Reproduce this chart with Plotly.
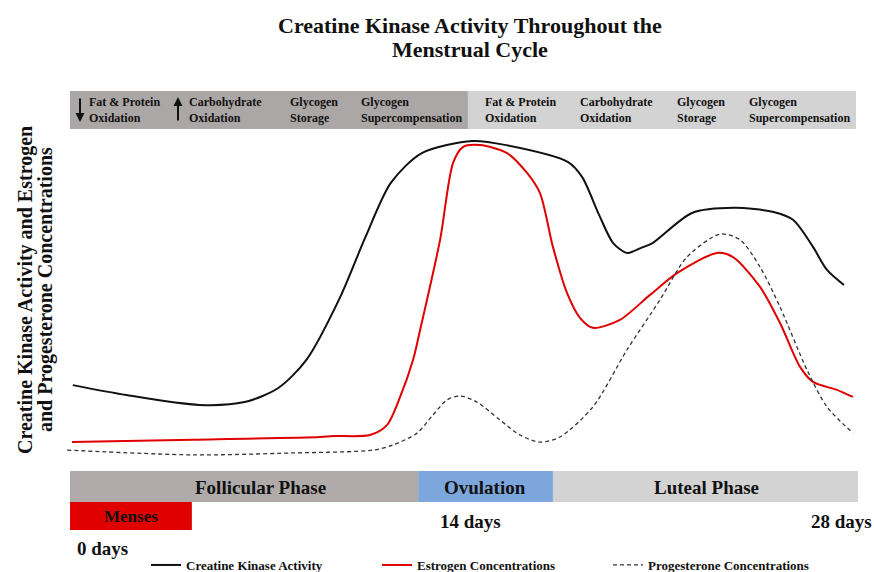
import plotly.graph_objects as go

W, H = 874, 572

# ---------------- data (days of cycle, relative level 0-100) ----------------
ck_day = [0.1, 2.0, 4.6, 6.2, 7.4, 8.4, 9.6, 10.5, 11.4, 12.5, 14.3, 15.5, 17.7, 18.2,
          18.8, 19.3, 19.8, 20.3, 20.7, 22.1, 23.6, 25.0, 25.7, 26.4, 26.9, 27.5]
ck_level = [23.4, 20.3, 17.2, 18.1, 22.5, 31.3, 50.9, 69.7, 86.6, 95.9, 99.7, 98.4, 93.1, 88.4,
            76.6, 67.8, 64.7, 66.3, 67.8, 77.2, 78.8, 77.5, 75.0, 66.6, 59.4, 54.7]

est_day = [0.07, 4.37, 8.88, 9.35, 10.66, 11.26, 11.73, 12.19, 12.44, 13.15, 13.61, 13.96, 14.57,
           15.53, 16.24, 16.70, 17.16, 17.66, 18.12, 18.58, 19.54, 20.61, 21.57, 22.99, 23.56,
           24.52, 25.23, 25.94, 26.40, 27.25, 27.82]
est_level = [5.6, 6.3, 7.2, 7.5, 7.8, 10.9, 19.7, 31.3, 40.6, 68.8, 92.8, 97.8, 98.4,
             95.9, 89.7, 83.4, 66.6, 52.2, 44.4, 41.3, 43.8, 51.6, 58.4, 64.7, 63.4,
             54.1, 42.8, 29.1, 24.4, 21.9, 19.7]

prog_day = [-0.1, 4.37, 7.92, 10.77, 11.48, 12.33, 12.90, 13.40, 13.86, 14.46, 15.28, 15.99,
            16.70, 17.41, 18.58, 19.79, 20.96, 21.92, 23.10, 23.81, 24.52, 25.23, 26.19, 26.90, 27.82]
prog_level = [3.1, 1.6, 2.2, 3.1, 4.7, 8.4, 14.1, 18.8, 20.0, 18.1, 12.5, 7.8,
              5.6, 7.2, 16.6, 34.4, 50.0, 63.4, 70.6, 68.8, 60.3, 47.8, 28.1, 16.6, 8.4]

phase_names = ["Follicular Phase", "Ovulation", "Luteal Phase"]
phase_start = [0, 12.37, 17.16]
phase_end = [12.37, 17.16, 28.0]
menses_label = "Menses"
menses_start, menses_end = 0, 4.33

fuel_labels = ["Fat & Protein<br>Oxidation", "Carbohydrate<br>Oxidation",
               "Glycogen<br>Storage", "Glycogen<br>Supercompensation"]
half_start = [0, 14.14]
half_end = [14.14, 27.93]

day_labels = ["0 days", "14 days", "28 days"]

title_lines = ["Creatine Kinase Activity Throughout the", "Menstrual Cycle"]
ytitle_lines = ["Creatine Kinase Activity and Estrogen", "and Progesterone Concentrations"]

# ---------------- layout helpers ----------------
X0_PX, PX_PER_DAY = 70, 788 / 28
LVL0_PX, PX_PER_LVL = 460, 3.2


def xp(px):
    return px / W


def yp(py):
    return 1 - py / H


FONT = "Liberation Serif"
INK = "#111111"

fig = go.Figure()

fig.add_trace(go.Scatter(x=ck_day, y=ck_level, mode="lines", name="Creatine Kinase Activity",
                         line=dict(color=INK, width=2, shape="spline", smoothing=0.8)))
fig.add_trace(go.Scatter(x=est_day, y=est_level, mode="lines", name="Estrogen Concentrations",
                         line=dict(color="#e00000", width=2, shape="spline", smoothing=0.8)))
fig.add_trace(go.Scatter(x=prog_day, y=prog_level, mode="lines", name="Progesterone Concentrations",
                         line=dict(color="#333333", width=1.3, dash="4px,3px", shape="spline",
                                   smoothing=0.8)))

shapes = []
annotations = []


def text(px, py, t, size, xanchor="center", angle=0, align="center"):
    annotations.append(dict(x=xp(px), y=yp(py), xref="paper", yref="paper",
                            text="<b>%s</b>" % t, showarrow=False, xanchor=xanchor,
                            yanchor="middle", align=align, textangle=angle,
                            font=dict(family=FONT, size=size, color=INK)))


# top fuel bands
band_colors = ["#aba7a6", "#d3d3d3"]
for s, e, c in zip(half_start, half_end, band_colors):
    shapes.append(dict(type="rect", xref="x", yref="paper", x0=s, x1=e,
                       y0=yp(129), y1=yp(91), fillcolor=c, line=dict(width=0), layer="below"))

fuel_px = [[87, 187, 288, 359], [483, 578, 675, 747]]
for row in fuel_px:
    for lab, px in zip(fuel_labels, row):
        text(px, 110, lab, 12, xanchor="left", align="left")

# arrows (decrease / increase)
annotations.append(dict(x=xp(80), y=yp(122), xref="paper", yref="paper", text="",
                        showarrow=True, ax=0, ay=-25, arrowhead=2, arrowsize=0.9,
                        arrowwidth=2, arrowcolor=INK))
annotations.append(dict(x=xp(178), y=yp(97), xref="paper", yref="paper", text="",
                        showarrow=True, ax=0, ay=25, arrowhead=2, arrowsize=0.9,
                        arrowwidth=2, arrowcolor=INK))

# bottom phase bars
phase_colors = ["#b0abaa", "#7da7dc", "#d3d3d3"]
for s, e, c in zip(phase_start, phase_end, phase_colors):
    shapes.append(dict(type="rect", xref="x", yref="paper", x0=s, x1=e,
                       y0=yp(502), y1=yp(471), fillcolor=c, line=dict(width=0), layer="below"))
for n, px in zip(phase_names, [260, 485, 706]):
    text(px, 487, n, 19)

shapes.append(dict(type="rect", xref="x", yref="paper", x0=menses_start, x1=menses_end,
                   y0=yp(530), y1=yp(502), fillcolor="#e00000", line=dict(width=0), layer="below"))
text(131, 516, menses_label, 17)

for lab, (px, py) in zip(day_labels, [(102, 548), (470, 521), (841, 521)]):
    text(px, py, lab, 19)

# title
text(470, 25, title_lines[0], 22)
text(470, 50, title_lines[1], 22)

# y title
text(25, 290, ytitle_lines[0], 20, angle=-90)
text(45, 290, ytitle_lines[1], 20, angle=-90)

x_left = -X0_PX / PX_PER_DAY
x_right = (W - X0_PX) / PX_PER_DAY
y_top = LVL0_PX / PX_PER_LVL
y_bottom = (LVL0_PX - H) / PX_PER_LVL

fig.update_layout(
    width=W, height=H,
    margin=dict(l=0, r=0, t=0, b=0, autoexpand=False),
    paper_bgcolor="white", plot_bgcolor="white",
    xaxis=dict(range=[x_left, x_right], visible=False, showgrid=False, zeroline=False),
    yaxis=dict(range=[y_bottom, y_top], visible=False, showgrid=False, zeroline=False),
    shapes=shapes, annotations=annotations,
    showlegend=True,
    legend=dict(orientation="h", x=xp(146), y=yp(565), xanchor="left", yanchor="middle",
                entrywidth=186, entrywidthmode="pixels", bgcolor="rgba(0,0,0,0)",
                font=dict(family=FONT, size=13, color=INK), itemclick=False),
)
for tr in fig.data:
    tr.name = "<b>%s</b>" % tr.name

fig.write_html("out.html", config={"displayModeBar": False},
               post_script="document.body.style.margin='0px';")
